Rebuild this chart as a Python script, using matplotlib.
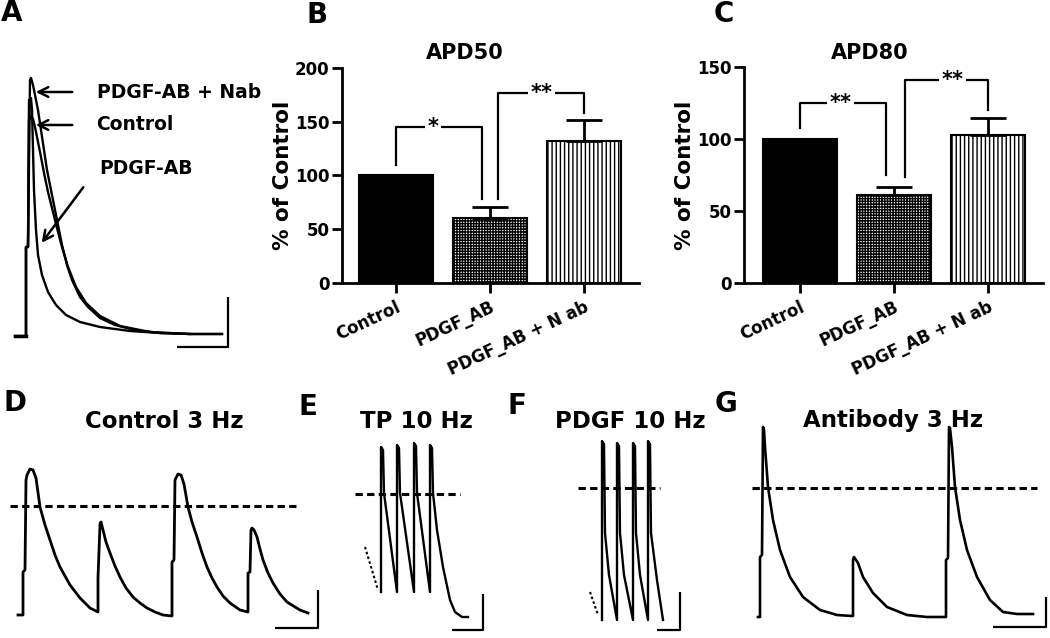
import matplotlib
matplotlib.use("Agg")
import matplotlib.pyplot as plt
import numpy as np

plt.rcParams["font.family"] = ["DejaVu Sans"]
plt.rcParams["hatch.linewidth"] = 1.0

W, H = 1050, 638  # figure size in pixels (dpi 100)

# ---------------------------------------------------------------------------
# Data: APD bar charts (B, C)
# ---------------------------------------------------------------------------
groups = ["Control", "PDGF_AB", "PDGF_AB + N ab"]
apd50_mean = [100, 60.5, 132]
apd50_sem = [0, 10, 19.5]
apd80_mean = [100, 61, 103]
apd80_sem = [0, 5.5, 11.5]

# significance brackets: (x_left, y_left, y_top, x_right, y_right, x_text, label)
apd50_brackets = [(0.0, 110, 145, 0.915, 78, 0.39, "*"),
                  (1.085, 78, 177, 2.0, 158, 1.55, "**")]
apd80_brackets = [(0.0, 107.5, 125, 0.915, 75, 0.43, "**"),
                  (1.117, 73.5, 141, 2.0, 120, 1.62, "**")]

# ---------------------------------------------------------------------------
# Data: action potential traces (t in ms, v in mV above rest)
# ---------------------------------------------------------------------------
# A - superimposed single APs
a_nab_t = [0, 11, 11, 13, 15, 16, 18, 20, 23, 26, 29, 32, 35, 39, 43, 47, 52, 57, 65, 73, 85, 100, 120, 145, 175, 207]
a_nab_v = [0, 0, 44.5, 44.5, 128, 129, 125.5, 120.5, 113, 103, 93, 83, 75.5, 65.5, 55.5, 45.5, 35.5, 28, 19.5, 14.5, 9, 5.5, 3, 1.5, 1, 1]
a_ctl_t = [11, 11, 13, 14, 16, 18, 20, 23, 26, 29, 33, 37, 42, 47, 53, 61, 71, 85, 105, 135, 175, 207]
a_ctl_v = [0, 44.5, 44.5, 108, 110, 108.5, 104.5, 97, 89.5, 81.5, 72, 64, 54, 44.5, 34.5, 24.5, 16.5, 10, 5, 2, 1, 1]
a_pdgf_t = [11, 11, 13, 14, 16, 17, 18, 19, 21, 23, 27, 33, 41, 51, 65, 85, 115, 145, 175]
a_pdgf_v = [0, 44.5, 44.5, 118, 119, 113, 93, 73, 53, 40.5, 30.5, 22, 15.5, 10.5, 7, 4.5, 2.5, 1.5, 1]

# D - control 3 Hz
d_t = [0, 5, 5, 7, 8, 9, 12, 15, 18, 22, 27, 32, 37, 42, 52, 62, 72, 80,
       80, 82, 83, 85, 88, 92, 97, 102, 108, 115, 122, 129, 137, 145, 154,
       154, 156, 157, 160, 163, 166, 170, 174, 179, 184, 189, 194, 199, 205, 212, 222, 230,
       230, 232, 233, 234, 236, 239, 242, 245, 250, 255, 262, 269, 277, 282, 290]
d_v = [0, 0, 21.5, 22.5, 67.5, 70, 73, 72.5, 68.5, 54, 45, 37.5, 30, 24, 15, 8.5, 3.5, 1.5,
       18.5, 45.5, 46.5, 42.5, 36.5, 31, 24.5, 19, 13.5, 9, 6, 3.5, 1.5, 0, -0.5,
       26.5, 27.5, 67.5, 70.5, 70, 65.5, 54, 46.5, 39, 31, 24, 18.5, 14, 9.5, 6, 2.5, 1.5,
       21, 21.5, 42.5, 43.5, 42.5, 39, 33, 27.5, 21, 16, 10.5, 6.5, 4, 2.5, 1]

# E - TP 10 Hz
e_dot_t = [5, 18]
e_dot_v = [35, 13.5]
e_t = [21, 21, 23, 24, 37, 37, 39, 40, 54, 54, 56, 57, 70, 70, 72, 73, 77, 83, 90, 95, 102, 108]
e_v = [12.5, 85, 83.5, 62, 12.5, 86, 84.5, 62, 12.5, 87, 85.5, 62, 12.5, 86, 84.5, 62, 43.5, 25, 8.5, 2.5, 0, 0]

# F - PDGF 10 Hz
f_dot_t = [10, 18]
f_dot_v = [14, 2.5]
f_t = [22, 22, 24, 25, 29, 37, 37, 39, 40, 44, 53, 53, 55, 56, 60, 68, 68, 70, 71, 77, 83]
f_v = [0, 89.5, 88, 43.5, 22.5, 0, 88.5, 87, 43.5, 22.5, 0, 88.5, 87, 43.5, 22.5, 0, 89.5, 88, 43.5, 20, 0]

# G - antibody 3 Hz
g_t = [0, 2, 2, 4, 5, 6, 7, 10, 15, 22, 32, 45, 62, 79, 94, 95, 95, 96, 100, 105,
       115, 129, 149, 169, 187, 188, 188, 190, 191, 192, 194, 197, 202, 209, 219, 232, 245, 259, 275]
g_v = [0, 0, 30, 31, 95, 93.5, 85, 65, 48.5, 33.5, 20, 10, 3.5, 1, 0.5, 0.5, 28.5, 30, 27, 20,
       12, 5, 1, 0, 0, 0, 28.5, 29.5, 95, 94.5, 85, 65, 48.5, 33.5, 20, 8.5, 2.5, 1.5, 1.5]

# reference (dashed) levels: (t_start, t_end, v)
d_ref = (-8, 279, 54.5)
e_ref = (-5, 100, 61.5)
f_ref = (-2, 80, 66)
g_ref = (-6, 279, 64.5)

# scale bars: (t_corner, v_corner, ms_length, mV_length)
a_scale = (213, -5.5, 51, 25)
d_scale = (300, -6.5, 43, 19)
e_scale = (123, -6.5, 31, 18)
f_scale = (100, -5, 23, 19)
g_scale = (288, -5, 53, 15)


# ---------------------------------------------------------------------------
# Helpers
# ---------------------------------------------------------------------------
fig = plt.figure(figsize=(W / 100, H / 100), dpi=100)


def fx(x):
    return x / W


def fy(y):
    return 1 - y / H


def px_axes(left, top, right, bottom):
    ax = fig.add_axes([fx(left), fy(bottom), (right - left) / W, (bottom - top) / H])
    ax.patch.set_alpha(0)
    return ax


def trace_axes(box, t0, v0):
    # 1 ms per pixel, 0.5 mV per pixel
    left, top, right, bottom = box
    ax = px_axes(*box)
    ax.set_xlim(left - t0, right - t0)
    ax.set_ylim((v0 - bottom) / 2, (v0 - top) / 2)
    ax.axis("off")
    return ax


def scale_bar(ax, sb):
    t, v, dt, dv = sb
    ax.plot([t - dt, t, t], [v, v, v + dv], color="black", lw=1.6,
            solid_capstyle="butt", clip_on=False)


def ref_line(ax, ref):
    t1, t2, v = ref
    ax.plot([t1, t2], [v, v], color="black", lw=2.2, ls=(0, (2.4, 1.4)), clip_on=False)


def bar_panel(box, means, sems, ymax, yticks, brackets, xlim, ylab_x):
    ax = px_axes(*box)
    x = np.arange(len(groups))
    bars = ax.bar(x, means, width=0.78, color=["black", "white", "white"],
                  edgecolor="black", linewidth=1.5, zorder=2)
    bars[1].set_hatch("++++++")
    bars[2].set_hatch("||||")
    ax.errorbar(x[1:], means[1:], yerr=[[0] * 2, sems[1:]], fmt="none", ecolor="black",
                elinewidth=2, capsize=13, capthick=2, zorder=3)
    ax.set_xlim(*xlim)
    ax.set_ylim(0, ymax)
    ax.set_yticks(yticks)
    ax.set_xticks(x)
    ax.set_xticklabels(groups, rotation=25, ha="right", rotation_mode="anchor",
                       fontsize=12.5, fontweight="bold")
    for lab in ax.get_yticklabels():
        lab.set_fontweight("bold")
    ax.tick_params(width=2, length=7, labelsize=12)
    ax.tick_params(axis="x", pad=4)
    ax.tick_params(axis="y", pad=2)
    for side in ("top", "right"):
        ax.spines[side].set_visible(False)
    for side in ("left", "bottom"):
        ax.spines[side].set_linewidth(2)
    ax.set_ylabel("% of Control", fontsize=15.5, fontweight="bold")
    ax.yaxis.set_label_coords(ylab_x, 0.5)
    for xl, yl, yt, xr, yr, xt, lab in brackets:
        ax.plot([xl, xl, xr, xr], [yl, yt, yt, yr], color="black", lw=1.6, clip_on=False, zorder=4)
        ax.text(xt, yt, lab, ha="center", va="center", fontsize=15, fontweight="bold", zorder=5,
                bbox=dict(boxstyle="square,pad=0.12", fc="white", ec="none"))
    return ax


# ---------------------------------------------------------------------------
# Panel A
# ---------------------------------------------------------------------------
axA = trace_axes((0, 60, 245, 355), 15, 336)
for t, v in ((a_pdgf_t, a_pdgf_v), (a_ctl_t, a_ctl_v), (a_nab_t, a_nab_v)):
    axA.plot(t, v, color="black", lw=1.7, clip_on=False)
axA.plot([0, 11], [0, 0], color="black", lw=2.5)
scale_bar(axA, a_scale)
arrow_kw = dict(arrowstyle="->,head_length=0.7,head_width=0.35", color="black", lw=1.8)
axA.annotate("", xy=(18, 122), xytext=(60, 122), arrowprops=arrow_kw)
axA.annotate("", xy=(18, 105.5), xytext=(60, 105.5), arrowprops=arrow_kw)
axA.annotate("", xy=(25, 45.5), xytext=(70, 75.5), arrowprops=arrow_kw)
axA.text(82, 122, "PDGF-AB + Nab", fontsize=13.5, fontweight="bold", va="center")
axA.text(81, 105.5, "Control", fontsize=13.5, fontweight="bold", va="center")
axA.text(84, 84, "PDGF-AB", fontsize=13.5, fontweight="bold", va="center")

# ---------------------------------------------------------------------------
# Panels B, C
# ---------------------------------------------------------------------------
bar_panel((342, 68, 639, 283), apd50_mean, apd50_sem, 200, [0, 50, 100, 150, 200],
          apd50_brackets, (-0.574, 2.585), -0.165)
bar_panel((744, 67, 1043, 283), apd80_mean, apd80_sem, 150, [0, 50, 100, 150],
          apd80_brackets, (-0.596, 2.585), -0.165)

# ---------------------------------------------------------------------------
# Panels D - G
# ---------------------------------------------------------------------------
axD = trace_axes((0, 440, 330, 638), 18, 615)
axD.plot(d_t, d_v, color="black", lw=2.0)
ref_line(axD, d_ref)
scale_bar(axD, d_scale)

axE = trace_axes((340, 435, 500, 638), 360, 617)
axE.plot(e_t, e_v, color="black", lw=1.7)
axE.plot(e_dot_t, e_dot_v, color="black", lw=1.5, ls=(0, (1.2, 1.2)))
ref_line(axE, e_ref)
scale_bar(axE, e_scale)

axF = trace_axes((560, 435, 700, 638), 580, 620)
axF.plot(f_t, f_v, color="black", lw=1.7)
axF.plot(f_dot_t, f_dot_v, color="black", lw=1.5, ls=(0, (1.2, 1.2)))
ref_line(axF, f_ref)
scale_bar(axF, f_scale)

axG = trace_axes((740, 420, 1050, 638), 758, 617)
axG.plot(g_t, g_v, color="black", lw=1.9)
ref_line(axG, g_ref)
scale_bar(axG, g_scale)

# ---------------------------------------------------------------------------
# Labels and titles
# ---------------------------------------------------------------------------
panel_letters = [("A", 12, 13), ("B", 317, 15), ("C", 724, 14), ("D", 15, 403),
                 ("E", 308, 407), ("F", 517, 406), ("G", 726, 404)]
for letter, x, y in panel_letters:
    fig.text(fx(x), fy(y), letter, ha="center", va="center", fontsize=20, fontweight="bold")

bold_titles = [("APD50", 465, 53), ("APD80", 870, 53)]
for txt, x, y in bold_titles:
    fig.text(fx(x), fy(y), txt, ha="center", va="center", fontsize=15, fontweight="bold")

trace_titles = [("Control 3 Hz", 164, 422), ("TP 10 Hz", 416, 421),
                ("PDGF 10 Hz", 630, 421), ("Antibody 3 Hz", 893, 420)]
for txt, x, y in trace_titles:
    fig.text(fx(x), fy(y), txt, ha="center", va="center", fontsize=16.5, fontweight="bold")

fig.savefig("out.png", dpi=100)
